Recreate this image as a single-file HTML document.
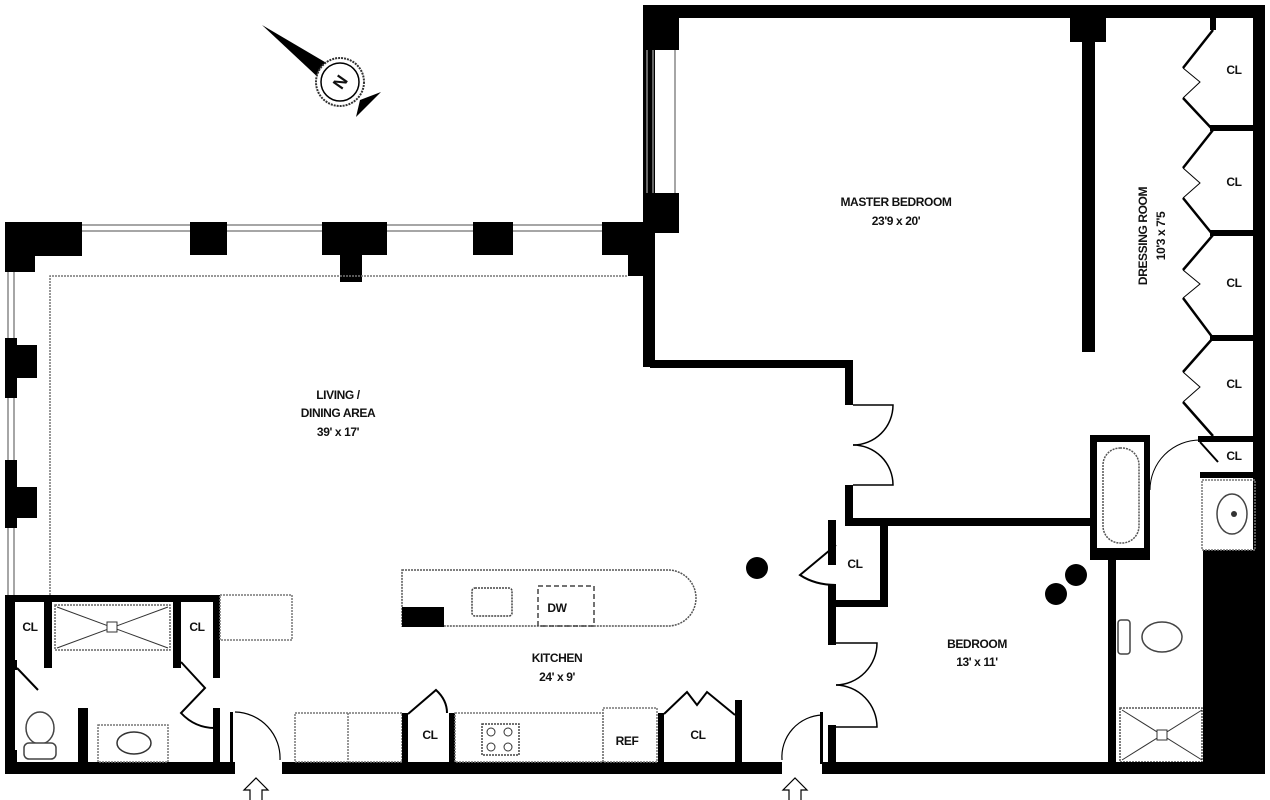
<!DOCTYPE html>
<html><head><meta charset="utf-8"><style>
html,body{margin:0;padding:0;background:#fff;}
svg{display:block}
text{font-family:"Liberation Sans Narrow","Liberation Sans",sans-serif;font-size:12px;font-weight:bold;letter-spacing:-0.4px;fill:#111;text-anchor:middle}
</style></head><body>
<svg width="1270" height="800" viewBox="0 0 1270 800" xmlns="http://www.w3.org/2000/svg">
<!-- compass -->
<polygon points="262,25 352,78 338,96" fill="#000"/>
<polygon points="381,92 360,100 356,117" fill="#000"/>
<circle cx="340" cy="82" r="24" fill="#fff" stroke="#333" stroke-width="2" stroke-dasharray="2 1"/>
<circle cx="340" cy="82" r="19" fill="#fff" stroke="#000" stroke-width="1.5"/>
<text x="340" y="88" transform="rotate(-55 340 82)" style="font-size:17px;font-weight:bold">N</text>

<g fill="#000">
<rect x="5" y="222" width="77" height="34"/><rect x="5" y="222" width="30" height="50"/>
<rect x="190" y="222" width="37" height="33"/>
<rect x="322" y="222" width="65" height="33"/><rect x="340" y="222" width="22" height="60"/>
<rect x="473" y="222" width="40" height="33"/>
<rect x="602" y="222" width="48" height="33"/><rect x="628" y="222" width="22" height="54"/>
<rect x="643" y="5" width="12" height="362"/>
<rect x="643" y="5" width="36" height="45"/><rect x="643" y="193" width="36" height="40"/>
</g>
<g stroke="#888" stroke-width="1.5" fill="none">
<path d="M82 225H190M82 231H190M227 225H322M227 231H322M387 225H473M387 231H473M513 225H602M513 231H602"/>
<path d="M8 272V345M14 272V345M8 378V460M14 378V460M8 528V595M14 528V595"/>
<path d="M647 50V193M653 50V193M675 50V193"/>
</g>
<g fill="#000">
<rect x="5" y="338" width="12" height="60"/><rect x="5" y="345" width="32" height="33"/>
<rect x="5" y="460" width="12" height="68"/><rect x="5" y="487" width="32" height="31"/>
</g>
<path d="M50 595V276H628" stroke="#777" stroke-width="1.5" fill="none" stroke-dasharray="2 1"/>

<g fill="#000">
<rect x="643" y="5" width="622" height="13"/>
<rect x="1253" y="5" width="12" height="767"/>
<rect x="1070" y="10" width="36" height="32"/>
<rect x="1082" y="40" width="13" height="312"/>
<rect x="650" y="360" width="200" height="8"/>
<rect x="845" y="360" width="8" height="45"/>
<rect x="845" y="485" width="8" height="40"/>
<rect x="845" y="518" width="248" height="8"/>
</g>
<g stroke="#000" fill="none" stroke-width="1.5">
<path d="M853 405H893A40 40 0 0 1 853 445"/>
<path d="M853 485H893A40 40 0 0 0 853 445"/>
</g>
<g fill="#000">
<rect x="1210" y="18" width="6" height="12"/>
<rect x="1210" y="125" width="45" height="6"/><rect x="1210" y="230" width="45" height="6"/>
<rect x="1210" y="335" width="45" height="6"/>
<rect x="1198" y="436" width="57" height="6"/>
<rect x="1200" y="472" width="55" height="6"/>
</g>
<g stroke="#000" fill="none" stroke-width="2.5">
<path d="M1213 30L1183 68M1183 98L1213 130L1183 168M1183 198L1213 235L1183 270M1183 298L1213 338L1183 372M1183 402L1213 436"/>
</g>
<g stroke="#000" fill="none" stroke-width="1">
<path d="M1183 68L1200 82L1183 98M1183 168L1200 183L1183 198M1183 270L1200 284L1183 298M1183 372L1200 387L1183 402"/>
</g>
<rect x="1090" y="435" width="60" height="125" fill="#000"/>
<rect x="1097" y="442" width="47" height="106" fill="#fff"/>
<rect x="1103" y="448" width="36" height="95" rx="17" fill="none" stroke="#555" stroke-width="1.5" stroke-dasharray="2 1"/>
<rect x="1090" y="548" width="60" height="12" fill="#000"/>
<rect x="1108" y="555" width="8" height="215" fill="#000"/>
<rect x="1203" y="550" width="52" height="220" fill="#000"/>
<rect x="1202" y="480" width="53" height="70" fill="none" stroke="#777" stroke-width="1.5" stroke-dasharray="2 1"/>
<ellipse cx="1232" cy="514" rx="15" ry="20" fill="none" stroke="#444" stroke-width="1.5"/>
<circle cx="1234" cy="514" r="3" fill="#333"/>
<path d="M1150 490A50 50 0 0 1 1200 440" stroke="#000" fill="none" stroke-width="1"/>
<path d="M1200 442L1218 462" stroke="#000" fill="none" stroke-width="2"/>
<ellipse cx="1162" cy="637" rx="20" ry="15" fill="#fff" stroke="#444" stroke-width="1.5"/>
<rect x="1118" y="620" width="12" height="34" rx="3" fill="#fff" stroke="#444" stroke-width="1.5"/>
<rect x="1120" y="708" width="82" height="54" fill="none" stroke="#555" stroke-width="1.5" stroke-dasharray="2 1"/>
<path d="M1122 710L1202 760M1202 710L1122 760" stroke="#333" stroke-width="1"/>
<rect x="1157" y="730" width="10" height="10" fill="#fff" stroke="#333"/>

<g fill="#000">
<rect x="828" y="520" width="8" height="45"/>
<rect x="828" y="585" width="8" height="60"/>
<rect x="880" y="520" width="8" height="85"/>
<rect x="828" y="600" width="60" height="7"/>
<rect x="828" y="725" width="8" height="45"/>
</g>
<path d="M836 545L800 575Q815 585 836 585" stroke="#000" fill="none" stroke-width="2"/>
<g stroke="#000" fill="none" stroke-width="1.5">
<path d="M836 643H877A42 42 0 0 1 836 685"/>
<path d="M836 727H877A42 42 0 0 0 836 685"/>
</g>
<circle cx="757" cy="568" r="11" fill="#000"/>
<circle cx="1076" cy="575" r="11" fill="#000"/>
<circle cx="1056" cy="594" r="11" fill="#000"/>

<g fill="#000">
<rect x="5" y="762" width="230" height="12"/>
<rect x="282" y="762" width="500" height="12"/>
<rect x="822" y="762" width="443" height="12"/>
<rect x="5" y="595" width="10" height="175"/>
<rect x="5" y="595" width="215" height="7"/>
</g>
<g fill="#000">
<rect x="44" y="598" width="8" height="70"/>
<rect x="5" y="660" width="12" height="10"/>
<rect x="173" y="598" width="8" height="70"/>
<rect x="213" y="598" width="7" height="80"/>
<rect x="213" y="708" width="7" height="56"/>
<rect x="78" y="708" width="10" height="56"/>
<rect x="5" y="750" width="12" height="15"/>
</g>
<rect x="55" y="605" width="115" height="45" fill="none" stroke="#666" stroke-width="1.5" stroke-dasharray="2 1"/>
<path d="M57 607L168 648M168 607L57 648" stroke="#333" stroke-width="1"/>
<rect x="107" y="622" width="10" height="10" fill="#fff" stroke="#333"/>
<path d="M17 668L38 690M181 662L205 688L181 713Q195 728 215 728" stroke="#000" fill="none" stroke-width="2"/>
<rect x="220" y="595" width="72" height="45" fill="none" stroke="#777" stroke-width="1.5" stroke-dasharray="2 1"/>
<ellipse cx="40" cy="728" rx="14" ry="16" fill="#fff" stroke="#444" stroke-width="1.5"/>
<rect x="24" y="743" width="32" height="16" rx="5" fill="#fff" stroke="#444" stroke-width="1.5"/>
<rect x="98" y="725" width="70" height="37" fill="none" stroke="#777" stroke-width="1.5" stroke-dasharray="2 1"/>
<ellipse cx="134" cy="743" rx="17" ry="11" fill="none" stroke="#333" stroke-width="1.5"/>
<rect x="230" y="712" width="3" height="50" fill="#000"/>
<path d="M235 712A46 46 0 0 1 280 760" stroke="#000" fill="none" stroke-width="1.2"/>
<path d="M782 760A42 42 0 0 1 822 715" stroke="#000" fill="none" stroke-width="1.2"/>
<rect x="820" y="712" width="3" height="52" fill="#000"/>
<path d="M250 800V790H244L256 778L268 790H262V800" stroke="#000" fill="#fff" stroke-width="1.2"/>
<path d="M789 800V790H783L795 778L807 790H801V800" stroke="#000" fill="#fff" stroke-width="1.2"/>

<path d="M402 570H668A28 28 0 0 1 668 626H402Z" fill="none" stroke="#555" stroke-width="1.5" stroke-dasharray="2 1"/>
<rect x="402" y="607" width="42" height="20" fill="#000"/>
<rect x="472" y="588" width="40" height="28" rx="3" fill="none" stroke="#444" stroke-width="1.5" stroke-dasharray="2 1"/>
<rect x="538" y="586" width="56" height="40" fill="none" stroke="#444" stroke-width="1.5" stroke-dasharray="5 3"/>
<rect x="295" y="713" width="107" height="49" fill="none" stroke="#777" stroke-width="1.5" stroke-dasharray="2 1"/>
<path d="M348 713V762" stroke="#777" stroke-width="1.5" stroke-dasharray="2 1"/>
<g fill="#000">
<rect x="402" y="713" width="6" height="50"/><rect x="449" y="713" width="6" height="50"/>
<rect x="658" y="713" width="6" height="50"/><rect x="735" y="700" width="7" height="63"/>
</g>
<rect x="455" y="713" width="148" height="49" fill="none" stroke="#777" stroke-width="1.5" stroke-dasharray="2 1"/>
<rect x="482" y="724" width="37" height="31" fill="none" stroke="#444" stroke-width="1.5" stroke-dasharray="2 1"/>
<circle cx="491" cy="732" r="4" fill="none" stroke="#333"/><circle cx="508" cy="732" r="4" fill="none" stroke="#333"/>
<circle cx="491" cy="747" r="4" fill="none" stroke="#333"/><circle cx="508" cy="747" r="4" fill="none" stroke="#333"/>
<rect x="603" y="708" width="54" height="54" fill="none" stroke="#777" stroke-width="1.5" stroke-dasharray="2 1"/>
<path d="M408 714L436 690Q447 700 447 713" stroke="#000" fill="none" stroke-width="2"/>
<path d="M664 714L687 692L697 705L707 692L735 715" stroke="#000" fill="none" stroke-width="2"/>

<text x="896" y="206">MASTER BEDROOM</text>
<text x="896" y="225">23'9 x 20'</text>
<text transform="translate(1147 236) rotate(-90)">DRESSING ROOM</text>
<text transform="translate(1165 236) rotate(-90)">10'3 x 7'5</text>
<text x="1234" y="74">CL</text><text x="1234" y="186">CL</text><text x="1234" y="287">CL</text>
<text x="1234" y="388">CL</text><text x="1234" y="460">CL</text>
<text x="338" y="399">LIVING /</text>
<text x="338" y="417">DINING AREA</text>
<text x="338" y="436">39' x 17'</text>
<text x="557" y="662">KITCHEN</text>
<text x="557" y="681">24' x 9'</text>
<text x="977" y="648">BEDROOM</text>
<text x="977" y="666">13' x 11'</text>
<text x="855" y="568">CL</text>
<text x="30" y="631">CL</text><text x="197" y="631">CL</text>
<text x="430" y="739">CL</text><text x="627" y="745">REF</text><text x="698" y="739">CL</text>
<text x="557" y="612">DW</text>
</svg>
</body></html>
